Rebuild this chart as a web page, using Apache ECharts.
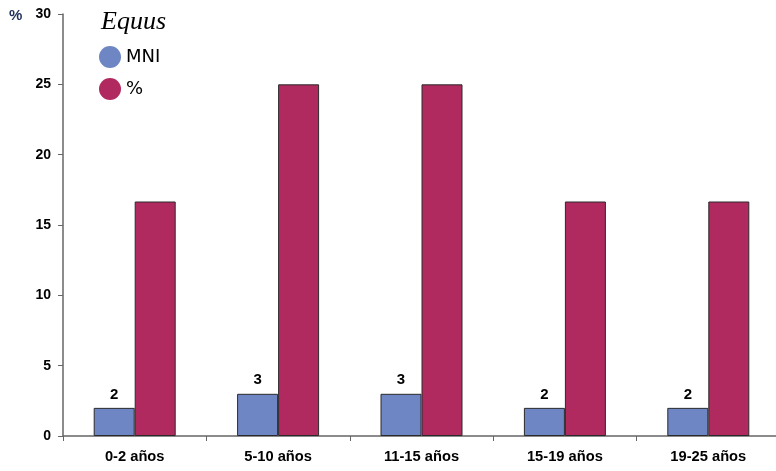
<!DOCTYPE html>
<html>
<head>
<meta charset="utf-8">
<script src="https://cdn.jsdelivr.net/npm/echarts@6/dist/echarts.min.js"></script>
<style>html,body{margin:0;padding:0;background:#fff;overflow:hidden;width:776px;height:471px;}#c{width:790px;height:471px;}</style>
</head>
<body>
<div id="c"></div>
<script>
const categories = ['0-2 años', '5-10 años', '11-15 años', '15-19 años', '19-25 años'];
const mniValues = [2, 3, 3, 2, 2];
const pctValues = [16.67, 25, 25, 16.67, 16.67];
const yTicks = {min: 0, max: 30, interval: 5};

const chart = echarts.init(document.getElementById('c'));
chart.setOption({
  animation: false,
  backgroundColor: '#fff',
  title: {
    text: 'Equus',
    left: 96, top: 4,
    textStyle: {fontFamily: 'Liberation Serif', fontStyle: 'italic', fontWeight: 'normal', fontSize: 26, color: '#000'}
  },
  legend: {
    orient: 'vertical',
    left: 94, top: 41,
    icon: 'circle',
    itemWidth: 22, itemHeight: 22,
    itemGap: 10,
    itemStyle: {borderWidth: 0},
    textStyle: {fontFamily: 'DejaVu Sans', fontSize: 18, color: '#000'},
    data: ['MNI', '%']
  },
  graphic: [{type: 'text', left: 9, top: 8, style: {text: '%', font: 'bold 15px Liberation Sans', fill: '#1f2f5a'}}],
  grid: {left: 63, right: 10, top: 14, bottom: 35},
  xAxis: {
    type: 'category',
    data: categories,
    axisLine: {lineStyle: {color: '#666', width: 1.5}},
    axisTick: {show: true, length: 5, lineStyle: {color: '#666'}},
    axisLabel: {fontFamily: 'Liberation Sans', fontWeight: 'bold', fontSize: 14.7, color: '#000', margin: 13}
  },
  yAxis: {
    type: 'value',
    min: yTicks.min, max: yTicks.max, interval: yTicks.interval,
    splitLine: {show: false},
    axisLine: {show: true, lineStyle: {color: '#666', width: 1.5}},
    axisTick: {show: true, length: 5, lineStyle: {color: '#666'}},
    axisLabel: {fontFamily: 'Liberation Sans', fontWeight: 'bold', fontSize: 14, color: '#000', margin: 12}
  },
  series: [
    {
      name: 'MNI', type: 'bar', data: mniValues,
      barWidth: 41, barGap: '0%',
      itemStyle: {color: '#6f86c4', borderColor: '#2a2a2a', borderWidth: 1},
      label: {show: true, position: 'top', distance: 6, fontFamily: 'Liberation Sans', fontWeight: 'bold', fontSize: 15, color: '#000'}
    },
    {
      name: '%', type: 'bar', data: pctValues,
      barWidth: 41, barGap: '0%',
      itemStyle: {color: '#b02a60', borderColor: '#2a2a2a', borderWidth: 1}
    }
  ]
});
</script>
</body>
</html>
